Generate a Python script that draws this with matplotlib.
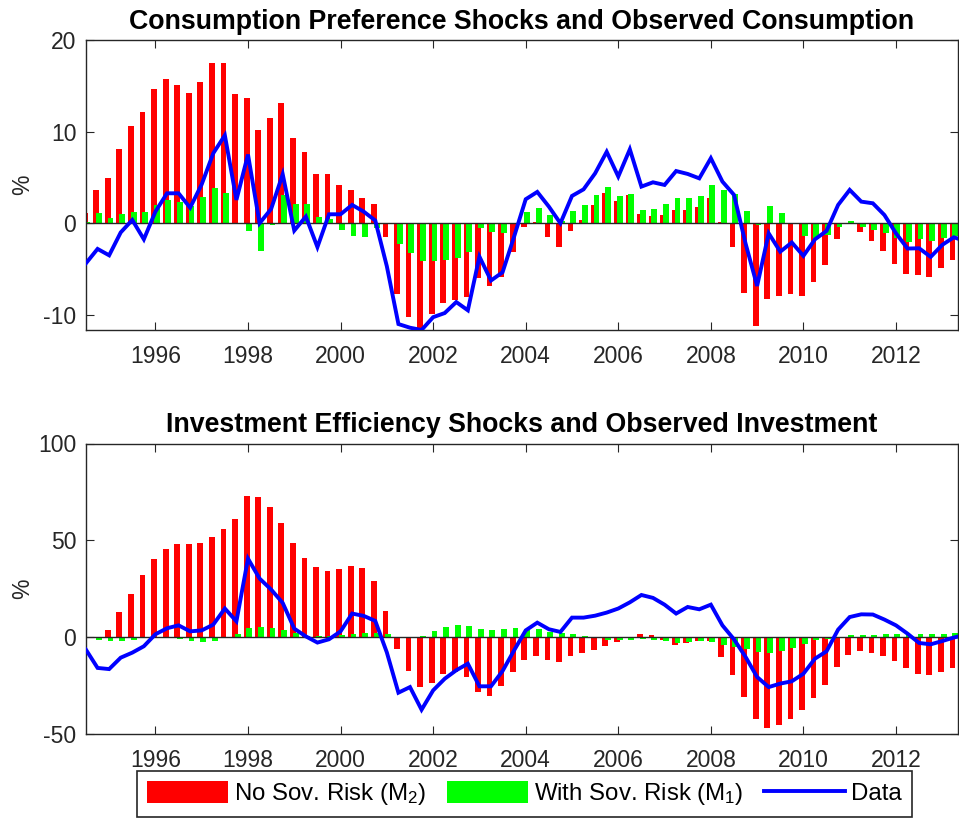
import numpy as np
import matplotlib
matplotlib.use('Agg')
import matplotlib.pyplot as plt
from matplotlib.patches import Patch
from matplotlib.lines import Line2D

plt.rcParams['font.family'] = ['Liberation Sans', 'DejaVu Sans']
plt.rcParams['mathtext.fontset'] = 'custom'
plt.rcParams['mathtext.rm'] = 'Liberation Sans'
plt.rcParams['mathtext.it'] = 'Liberation Sans:italic'
plt.rcParams['mathtext.bf'] = 'Liberation Sans:bold'

# ---------------- data (quarterly, starting 1994Q3) ----------------
start_year = 1994.5

cons_no_sov = [1.1, 3.6, 4.95, 8.1, 10.6, 12.1, 14.6, 15.7, 15.05, 14.2, 15.45, 17.45, 17.5,
               14.07, 13.7, 10.15, 11.45, 13.16, 9.35, 7.75, 5.35, 5.42, 4.2, 3.6, 2.8, 2.15,
               -1.53, -7.67, -10.25, -11.4, -9.93, -8.73, -8.36, -8.07, -6.0, -6.84, -5.9, -3.1,
               -0.36, 0.15, -1.45, -2.6, -0.8, 0.36, 2.0, 3.3, 2.44, 3.1, 0.98, 0.84, 0.87,
               1.42, 1.42, 1.82, 2.73, 0.18, -2.55, -7.64, -11.2, -8.3, -7.9, -7.75, -7.9, -6.36,
               -4.6, -1.7, -0.1, -1.0, -1.9, -3.0, -4.5, -5.56, -5.7, -5.85, -4.87, -3.96]

cons_with_sov = [0.1, 1.16, 0.62, 0.98, 1.24, 1.2, 2.04, 2.5, 2.3, 1.9, 2.87, 3.85, 3.3,
                 -0.05, -0.87, -3.05, -0.2, 3.1, 2.1, 2.15, 0.65, 0.5, -0.73, -1.4, -1.5, -0.5,
                 0.0, -2.25, -3.2, -4.1, -4.1, -4.0, -3.75, -3.16, -0.55, -1.0, -1.1, 0.0,
                 1.27, 1.64, 0.87, 0.2, 1.3, 2.0, 3.1, 3.93, 3.0, 3.24, 1.5, 1.56, 2.07,
                 2.8, 2.73, 3.0, 4.15, 3.6, 3.2, 1.3, -0.15, 1.9, 1.16, 0.0, -1.42, -1.67,
                 -1.3, -0.36, 0.22, -0.36, -0.73, -1.05, -1.64, -2.0, -1.75, -1.93, -1.6, -1.35]

cons_data = [-4.36, -2.8, -3.5, -1.0, 0.36, -1.75, 1.27, 3.27, 3.27, 1.7, 4.25, 7.64, 9.6,
             2.55, 7.5, 0.0, 1.56, 5.35, -0.8, 0.73, -2.6, 0.98, 0.98, 2.0, 1.27, 0.3,
             -4.7, -11.0, -11.4, -11.65, -10.25, -9.8, -8.6, -9.5, -3.64, -6.25, -5.35, -1.45,
             2.62, 3.42, 1.82, 0.0, 2.98, 3.7, 5.45, 7.8, 5.1, 8.07, 4.0, 4.47, 4.18,
             5.7, 5.38, 4.9, 7.1, 4.55, 3.1, -2.2, -6.84, -1.1, -3.1, -2.1, -3.56, -1.75,
             -0.84, 2.0, 3.64, 2.36, 2.18, 0.9, -1.1, -2.76, -2.73, -3.67, -2.36, -1.53, -1.95]

inv_no_sov = [0.0, 0.0, 3.45, 12.8, 22.4, 31.9, 40.5, 45.7, 47.8, 47.9, 48.8, 51.7, 56.0,
              61.2, 72.9, 72.2, 67.1, 59.1, 48.6, 40.9, 36.0, 34.3, 35.0, 36.9, 35.5, 29.1,
              13.6, -6.2, -17.6, -25.9, -23.6, -19.3, -18.1, -20.5, -28.4, -30.7, -25.5, -17.9,
              -12.1, -10.0, -11.9, -12.8, -9.8, -8.3, -6.9, -4.8, -2.8, -0.5, 1.7, 1.2, -1.4,
              -4.3, -2.9, -2.1, -2.1, -10.3, -19.8, -31.2, -42.4, -46.9, -45.7, -42.6, -37.9,
              -31.4, -24.8, -15.7, -9.1, -7.4, -8.3, -10.0, -12.4, -16.0, -19.0, -19.5, -17.9, -16.0]

inv_with_sov = [0.0, -1.4, -2.1, -2.1, -1.4, 0.0, 0.0, 0.0, -1.0, -2.1, -2.6, -2.1, 0.0,
                1.7, 4.8, 5.3, 4.7, 3.4, 1.9, 0.7, 0.3, 0.3, 0.9, 1.4, 1.9, 2.1,
                1.4, 0.0, 0.0, 0.7, 2.9, 5.0, 6.0, 5.7, 4.0, 3.4, 4.0, 4.5,
                3.6, 4.0, 2.8, 1.9, 1.4, 0.5, 0.0, -1.4, -1.4, -1.4, -1.2, -1.4, -2.1,
                -2.9, -2.6, -2.1, -2.8, -4.0, -5.2, -6.4, -7.6, -8.1, -7.1, -5.5, -3.4,
                -1.7, -0.9, 0.0, 1.2, 1.2, 1.2, 1.4, 1.7, 1.2, 1.4, 1.4, 1.7, 1.9]

inv_data = [-6.6, -16.0, -16.6, -10.7, -8.1, -4.8, 1.4, 4.5, 6.0, 2.9, 3.4, 6.4, 14.7,
            8.1, 40.5, 30.2, 24.5, 17.6, 4.3, 0.3, -2.9, -1.2, 2.9, 12.1, 10.9, 8.3,
            -8.0, -28.8, -25.9, -37.6, -27.6, -21.6, -17.2, -13.8, -25.5, -25.5, -17.6, -6.9,
            3.4, 7.4, 4.0, 2.6, 10.0, 10.0, 11.0, 12.6, 14.7, 17.9, 21.7, 20.2, 16.7,
            12.1, 15.5, 14.3, 16.7, 6.0, -1.2, -10.3, -20.7, -25.9, -24.1, -22.9, -19.0,
            -11.2, -7.4, 3.8, 10.3, 11.7, 11.6, 9.0, 6.0, 1.7, -3.1, -3.8, -2.1, -0.3, 1.2]

year_ticks = [1996, 1998, 2000, 2002, 2004, 2006, 2008, 2010, 2012]
cons_yticks = [-10, 0, 10, 20]
inv_yticks = [-50, 0, 50, 100]

titles = ['Consumption Preference Shocks and Observed Consumption',
          'Investment Efficiency Shocks and Observed Investment']
legend_labels = ['No Sov. Risk (M$_2$)', 'With Sov. Risk (M$_1$)', 'Data']

# ---------------- styling ----------------
RED = (1, 0, 0)
GREEN = (0, 1, 0)
BLUE = (0, 0, 1)
AXC = '#262626'
BAR_W = 0.125
BAR_OFF = 0.03
TICK_FS = 16.5

line_dates = start_year + 0.25 * np.arange(len(cons_data))
bar_dates = start_year + 0.25 * np.arange(len(cons_no_sov))

W, H = 959, 825
fig = plt.figure(figsize=(W / 100, H / 100), dpi=100)
ax1 = fig.add_axes([86 / W, 1 - 330 / H, 872 / W, 290 / H])
ax2 = fig.add_axes([86 / W, 1 - 733.7 / H, 872 / W, 290.2 / H])


def panel(ax, red, green, data, yticks, ylim, title):
    ax.bar(bar_dates - BAR_OFF, red, width=BAR_W, color=RED, linewidth=0, zorder=2)
    ax.bar(bar_dates + BAR_OFF, green, width=BAR_W, color=GREEN, linewidth=0, zorder=2.1)
    ax.axhline(0, color=AXC, lw=1.0, zorder=2.5)
    ax.plot(line_dates, data, color=BLUE, lw=2.8, zorder=3, solid_joinstyle='miter')
    ax.set_xlim(start_year, 2013.34)
    ax.set_ylim(*ylim)
    ax.set_xticks(year_ticks)
    ax.set_xticklabels([str(y) for y in year_ticks])
    ax.set_yticks(yticks)
    ax.set_yticklabels([str(v) for v in yticks])
    ax.tick_params(direction='in', top=True, right=True, length=6, width=0.8,
                   color=AXC, labelcolor=AXC, labelsize=TICK_FS)
    ax.tick_params(axis='y', pad=7)
    ax.tick_params(axis='x', pad=11)
    for s in ax.spines.values():
        s.set_color(AXC)
        s.set_linewidth(1.0)
    ax.set_title(title, fontsize=19.3, fontweight='bold', pad=8, color='black')
    ax.set_ylabel('%', fontsize=TICK_FS, color=AXC)
    ax.yaxis.set_label_coords(-0.06, 0.5)


panel(ax1, cons_no_sov, cons_with_sov, cons_data, cons_yticks, (-11.65, 20), titles[0])
panel(ax2, inv_no_sov, inv_with_sov, inv_data, inv_yticks, (-50, 100), titles[1])

handles = [Patch(facecolor=RED, edgecolor='none'),
           Patch(facecolor=GREEN, edgecolor='none'),
           Line2D([], [], color=BLUE, lw=2.8)]
leg = fig.legend(handles, legend_labels, loc='center',
                 bbox_to_anchor=(524.5 / W, 1 - 794 / H), ncol=3,
                 fontsize=17.3, frameon=True, fancybox=False, framealpha=1,
                 handlelength=3.37, handleheight=1.04, handletextpad=0.25,
                 columnspacing=0.85, borderpad=0.42)
leg.get_frame().set_edgecolor(AXC)
leg.get_frame().set_linewidth(1.2)
for t in leg.get_texts():
    t.set_color('black')

fig.savefig('out.png', dpi=100)
